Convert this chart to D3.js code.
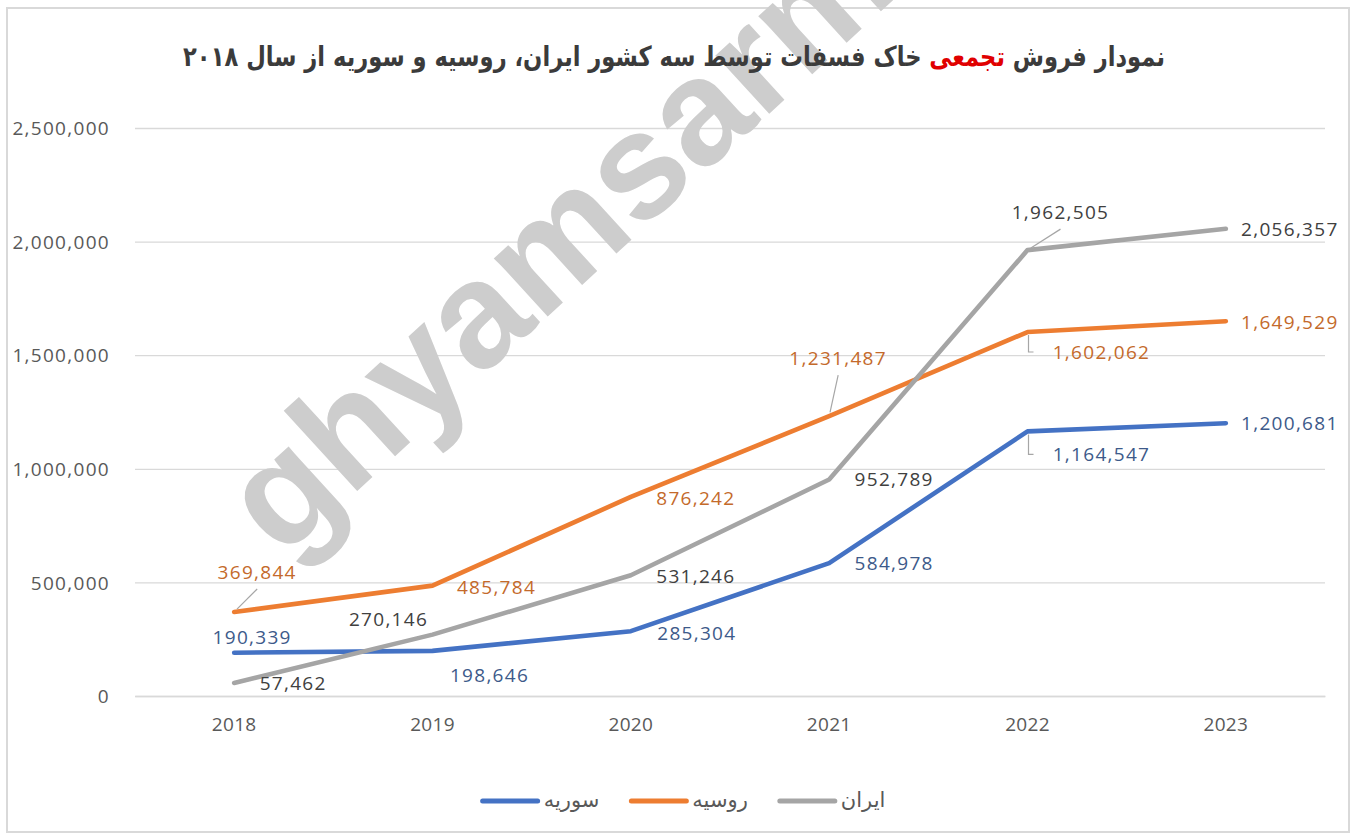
<!DOCTYPE html>
<html>
<head>
<meta charset="utf-8">
<script src="https://cdn.jsdelivr.net/npm/d3@7"></script>
<style>
  html, body { margin: 0; padding: 0; background: #fff; }
  svg { display: block; }
</style>
</head>
<body>
<svg id="chart" width="1352" height="835"></svg>
<script>
// ---------- data ----------
const years = ["2018", "2019", "2020", "2021", "2022", "2023"];
const syria = [190339, 198646, 285304, 584978, 1164547, 1200681];
const russia = [369844, 485784, 876242, 1231487, 1602062, 1649529];
const iran = [57462, 270146, 531246, 952789, 1962505, 2056357];
const yTicks = [0, 500000, 1000000, 1500000, 2000000, 2500000];
const seriesNames = ["سوریه", "روسیه", "ایران"];
const titleParts = ["نمودار فروش ", "تجمعی", " خاک فسفات توسط سه کشور ایران، روسیه و سوریه از سال ۲۰۱۸"];
const watermarkText = "ghyamsarm";

// ---------- label placement (offsets from point, px) ----------
const syriaLbl = [[18, -15], [57, 24], [66, 2], [65, 0], [74, 23], [64, 0]];
const russiaLbl = [[23, -40], [64, 2], [65, 1], [9, -58], [74, 20], [64, 1]];
const iranLbl = [[59, 0], [-44, -15], [65, 1], [65, 0], [33, -38], [64, 1]];
const syriaLead = [null, null, null, null, "elbow", null];
const russiaLead = ["line", null, null, "line", "elbow", null];
const iranLead = [null, null, null, null, "line", null];

const series = [
  { name: seriesNames[0], values: syria, color: "#4472C4", text: "#3D5A8A", lbl: syriaLbl, lead: syriaLead },
  { name: seriesNames[1], values: russia, color: "#ED7D31", text: "#C46A2B", lbl: russiaLbl, lead: russiaLead },
  { name: seriesNames[2], values: iran, color: "#A5A5A5", text: "#404040", lbl: iranLbl, lead: iranLead }
];

const svg = d3.select("#chart");

// frame
svg.append("rect").attr("x", 7).attr("y", 8).attr("width", 1342).attr("height", 824)
  .attr("fill", "#fff").attr("stroke", "#d9d9d9").attr("stroke-width", 2);

const x = d3.scaleBand().domain(years).range([135, 1325]);
const y = d3.scaleLinear().domain([0, 2500000]).range([696, 128]);
const cx = d => x(d) + x.bandwidth() / 2;
const fmt = d3.format(",");

// gridlines + y labels
const yAxis = d3.axisLeft(y).tickValues(yTicks).tickSize(-(1325 - 135)).tickFormat(fmt).tickPadding(25);
const gy = svg.append("g").attr("transform", "translate(135,0)").call(yAxis);
gy.select(".domain").remove();
gy.selectAll(".tick line").attr("stroke", "#d9d9d9").attr("stroke-width", 1.3);
gy.selectAll(".tick text").attr("fill", "#595959").attr("font-family", "'Open Sans', sans-serif")
  .attr("font-size", 19).attr("letter-spacing", 1.3).attr("dy", "0.35em");

// x axis
const xAxis = d3.axisBottom(x).tickSize(0).tickPadding(22);
const gx = svg.append("g").attr("transform", "translate(0,696)").call(xAxis);
gx.select(".domain").attr("stroke", "#d9d9d9").attr("stroke-width", 1.3);
gx.selectAll(".tick text").attr("fill", "#595959").attr("font-family", "'Open Sans', sans-serif")
  .attr("font-size", 19).attr("letter-spacing", 0.3);

// watermark
svg.append("text")
  .attr("transform", "translate(282,560) rotate(-42.5)")
  .attr("font-family", "'Liberation Sans', Arial, sans-serif")
  .attr("font-weight", "bold")
  .attr("font-size", 150)
  .attr("fill", "#cdcdcd")
  .text(watermarkText);

// lines
const line = d3.line().x((d, i) => cx(years[i])).y(d => y(d));
series.forEach(s => {
  svg.append("path").datum(s.values)
    .attr("d", line)
    .attr("fill", "none")
    .attr("stroke", s.color)
    .attr("stroke-width", 4.6)
    .attr("stroke-linejoin", "round")
    .attr("stroke-linecap", "round");
});

// labels + leaders
series.forEach(s => {
  s.values.forEach((v, i) => {
    const px = cx(years[i]), py = y(v);
    const lx = px + s.lbl[i][0], ly = py + s.lbl[i][1];
    const lead = s.lead[i];
    if (lead === "line") {
      const dx = lx - px, dy = (ly + 17) - py;
      const len = Math.hypot(dx, dy);
      svg.append("line")
        .attr("x1", px + dx / len * 4).attr("y1", py + dy / len * 4)
        .attr("x2", lx).attr("y2", ly + 17)
        .attr("stroke", "#a6a6a6").attr("stroke-width", 1.2);
    } else if (lead === "elbow") {
      svg.append("path")
        .attr("d", `M${px + 1},${py + 3}V${ly}H${px + 6}`)
        .attr("fill", "none").attr("stroke", "#a6a6a6").attr("stroke-width", 1.2);
    }
    svg.append("text")
      .attr("x", lx).attr("y", ly).attr("dy", "0.35em")
      .attr("text-anchor", "middle")
      .attr("font-family", "'Open Sans', sans-serif")
      .attr("font-size", 19).attr("letter-spacing", 1.3)
      .attr("fill", s.text)
      .text(fmt(v));
  });
});

// title
const title = svg.append("text")
  .attr("x", 0).attr("y", 0)
  .attr("direction", "rtl")
  .attr("text-anchor", "middle")
  .attr("font-family", "'DejaVu Sans', sans-serif")
  .attr("font-weight", "bold")
  .attr("font-size", 22)
  .attr("fill", "#3b3b3b");
titleParts.forEach((p, i) => {
  title.append("tspan").attr("fill", i === 1 ? "#E00000" : "#3b3b3b").text(p);
});
const tl = title.node().getComputedTextLength();
title.attr("font-size", 22 * 982 / tl)
  .attr("transform", "translate(674,66) scale(1,1.22)");

// legend
const legend = svg.append("g");
let cursor = 0;
const lineLen = 57, gapLT = 6, gapItem = 30;
series.forEach(s => {
  const g = legend.append("g");
  g.append("line").attr("x1", cursor + 2).attr("x2", cursor + lineLen).attr("y1", 0).attr("y2", 0)
    .attr("stroke", s.color).attr("stroke-width", 5).attr("stroke-linecap", "round");
  const t = g.append("text").attr("x", cursor + lineLen + gapLT).attr("y", 0).attr("dy", "0.3em")
    .attr("font-family", "'DejaVu Sans', sans-serif").attr("font-size", 21)
    .attr("fill", "#595959").attr("direction", "rtl").attr("text-anchor", "end").text(s.name);
  const w = t.node().getComputedTextLength();
  cursor += lineLen + gapLT + w + gapItem;
});
const total = cursor - gapItem;
legend.attr("transform", `translate(${683 - total / 2},801)`);
</script>
</body>
</html>
